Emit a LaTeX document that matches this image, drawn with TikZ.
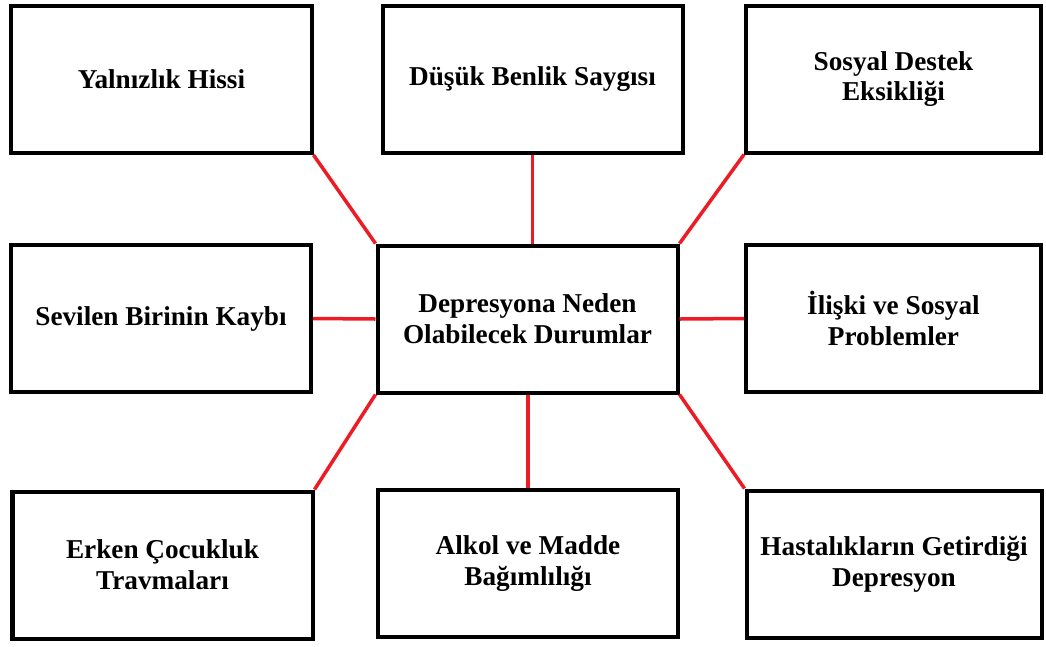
\documentclass[tikz,border=0pt]{standalone}
\usepackage{fontspec}
\setmainfont{Liberation Serif}
\definecolor{linkred}{RGB}{237,28,36}
\tikzset{
  causebox/.style={draw=black, line width=0.08cm, minimum width=6.0cm, minimum height=2.94cm,
    align=center, inner sep=0pt, font=\fontsize{15.5}{17.5}\selectfont\bfseries},
  redlink/.style={draw=linkred, line width=0.07cm}
}
\begin{document}
\begin{tikzpicture}
            \useasboundingbox (0,0) rectangle (20.92,-12.92);

            % Drawing center box
            \node [causebox] (c) at (10.55,-6.38) {Depresyona Neden\\Olabilecek Durumlar};%

            % Drawing top row
            \node [causebox] (tl) at (3.23,-1.59) {Yalnızlık Hissi};%
            \node [causebox] (tm) at (10.65,-1.59) {Düşük Benlik Saygısı};%
            \node [causebox, minimum width=5.9cm] (tr) at (17.87,-1.58) {Sosyal Destek\\Eksikliği};%

            % Drawing middle row
            \node [causebox] (ml) at (3.22,-6.37) {Sevilen Birinin Kaybı};%
            \node [causebox, minimum width=5.9cm] (mr) at (17.87,-6.37) {İlişki ve Sosyal\\Problemler};%

            % Drawing bottom row
            \node [causebox] (bl) at (3.25,-11.30) {Erken Çocukluk\\Travmaları};%
            \node [causebox] (bm) at (10.56,-11.27) {Alkol ve Madde\\Bağımlılığı};%
            \node [causebox, minimum width=5.9cm] (br) at (17.88,-11.28) {Hastalıkların Getirdiği\\Depresyon};%

            % Drawing red links
            \draw [redlink] (tl.south east) -- (c.north west);%
            \draw [redlink] (tm.south) -- (tm.south |- c.north);%
            \draw [redlink] (tr.south west) -- (c.north east);%
            \draw [redlink] (ml.east) -- (c.west);%
            \draw [redlink] (c.east) -- (mr.west);%
            \draw [redlink] (c.south west) -- (bl.north east);%
            \draw [redlink] (bm.north) -- (bm.north |- c.south);%
            \draw [redlink] (c.south east) -- (br.north west);%
\end{tikzpicture}
\end{document}
